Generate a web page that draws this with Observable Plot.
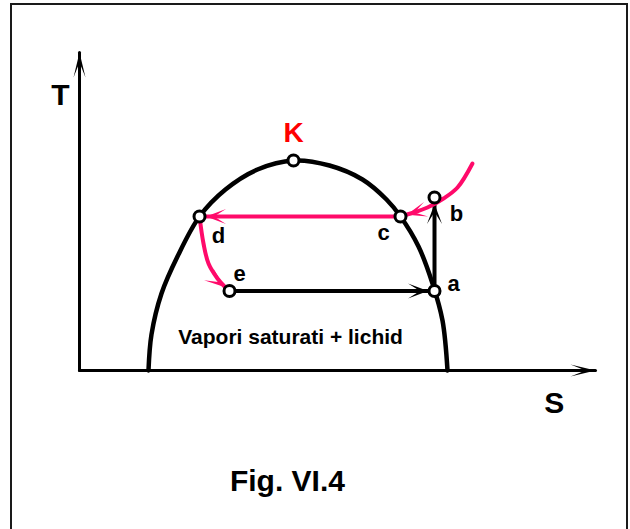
<!DOCTYPE html>
<html>
<head>
<meta charset="utf-8">
<script src="https://cdn.jsdelivr.net/npm/d3@7"></script>
<script src="https://cdn.jsdelivr.net/npm/@observablehq/plot@0.6"></script>
<style>
  html, body { margin: 0; padding: 0; background: #fff; }
  #wrap { position: relative; width: 630px; height: 529px; overflow: hidden; }
  #frame { position: absolute; left: 10px; top: 3px; width: 614px; height: 560px; border: 2px solid #1a1a1a; box-sizing: content-box; }
  #chart { position: absolute; left: 0; top: 0; }
  text { font-family: "Liberation Sans", Arial, sans-serif; font-weight: bold; }
</style>
</head>
<body>
<div id="wrap"><div id="frame"></div><div id="chart"></div></div>
<script>
// Saturation dome (S, T)
const domeS = [1.337, 1.395, 1.589, 1.899, 2.326, 2.829, 3.450, 4.147, 4.845, 5.484, 5.950, 6.221, 6.570, 6.841, 7.035, 7.132];
const domeT = [0, 0.679, 1.453, 2.151, 2.906, 3.415, 3.792, 3.962, 3.868, 3.604, 3.226, 2.906, 2.340, 1.642, 0.943, 0];
// State points
const pointNames = ["K", "d", "c", "b", "a", "e"];
const pointS = [4.147, 2.326, 6.221, 6.88, 6.88, 2.907];
const pointT = [3.962, 2.906, 2.906, 3.264, 1.50, 1.50];
// Pink inflow curve ending at c
const inS = [7.616, 7.326, 7.054, 6.744, 6.415, 6.221];
const inT = [3.906, 3.453, 3.245, 3.075, 2.962, 2.906];
// Pink curve d -> e
const deS = [2.326, 2.403, 2.500, 2.674, 2.829, 2.907];
const deT = [2.906, 2.396, 2.019, 1.736, 1.566, 1.50];
// Axis extents
const axisS = [0, 10];
const axisT = [0, 6];
// Texts
const regionLabel = "Vapori saturati + lichid";
const figCaption = "Fig. VI.4";

const pink = "#ff0a6a";
const dome = domeS.map((s, i) => ({S: s, T: domeT[i]}));
const pts = pointNames.map((n, i) => ({name: n, S: pointS[i], T: pointT[i]}));
const P = Object.fromEntries(pts.map(p => [p.name, p]));
const inflow = inS.map((s, i) => ({S: s, T: inT[i]}));
const dToE = deS.map((s, i) => ({S: s, T: deT[i]}));

function arrowHead(L, W, N, inset) {
  return (color, context) => {
    const doc = (context && context.document) || document;
    const ns = "http://www.w3.org/2000/svg";
    const m = doc.createElementNS(ns, "marker");
    m.setAttribute("viewBox", "-60 -20 70 40");
    m.setAttribute("markerWidth", 70);
    m.setAttribute("markerHeight", 40);
    m.setAttribute("markerUnits", "userSpaceOnUse");
    m.setAttribute("refX", 0);
    m.setAttribute("refY", 0);
    m.setAttribute("orient", "auto");
    m.setAttribute("overflow", "visible");
    const p = doc.createElementNS(ns, "path");
    const t = -inset;
    p.setAttribute("d", `M${t},0L${t - L},${-W}L${t - L + N},0L${t - L},${W}Z`);
    p.setAttribute("fill", color);
    p.setAttribute("stroke", "none");
    m.appendChild(p);
    return m;
  };
}
const headAxis = arrowHead(25, 6, 15, 0);
const headPt = arrowHead(20, 7.5, 12, 6.5);

const chart = Plot.plot({
  width: 630,
  height: 529,
  marginLeft: 79,
  marginRight: 35,
  marginTop: 52,
  marginBottom: 159,
  x: {domain: axisS, axis: null},
  y: {domain: axisT, axis: null},
  style: {fontFamily: "Liberation Sans, Arial, sans-serif", background: "transparent"},
  marks: [
    // axes
    Plot.line([{S: axisS[0], T: 0}, {S: axisS[1], T: 0}], {x: "S", y: "T", stroke: "black", strokeWidth: 3, markerEnd: headAxis}),
    Plot.line([{S: 0, T: axisT[0]}, {S: 0, T: axisT[1]}], {x: "S", y: "T", stroke: "black", strokeWidth: 3, markerEnd: headAxis}),
    Plot.text(["T"], {x: 0, y: 5.19, dx: -19, text: d => d, fontSize: 30, fontWeight: "bold", fill: "black"}),
    Plot.text(["S"], {x: 9.2, y: 0, dy: 33, text: d => d, fontSize: 30, fontWeight: "bold", fill: "black"}),
    // dome
    Plot.line(dome, {x: "S", y: "T", stroke: "black", strokeWidth: 4.5, curve: "catmull-rom"}),
    // black process arrows
    Plot.line([P.e, P.a], {x: "S", y: "T", stroke: "black", strokeWidth: 4, markerEnd: headPt}),
    Plot.line([P.a, P.b], {x: "S", y: "T", stroke: "black", strokeWidth: 4, markerEnd: headPt}),
    // pink process arrows
    Plot.line(inflow, {x: "S", y: "T", stroke: pink, strokeWidth: 4, curve: "catmull-rom", markerEnd: headPt}),
    Plot.line([P.c, P.d], {x: "S", y: "T", stroke: pink, strokeWidth: 4, markerEnd: headPt}),
    Plot.line(dToE, {x: "S", y: "T", stroke: pink, strokeWidth: 4, curve: "catmull-rom", markerEnd: headPt}),
    // state points
    Plot.dot(pts, {x: "S", y: "T", r: 5.5, fill: "white", stroke: "black", strokeWidth: 3}),
    // point labels
    Plot.text([P.K], {x: "S", y: "T", text: "name", dy: -27, fontSize: 28, fontWeight: "bold", fill: "#ff0000"}),
    Plot.text([P.d], {x: "S", y: "T", text: "name", dx: 19, dy: 19, fontSize: 22, fontWeight: "bold", fill: "black"}),
    Plot.text([P.c], {x: "S", y: "T", text: "name", dx: -17, dy: 16, fontSize: 22, fontWeight: "bold", fill: "black"}),
    Plot.text([P.b], {x: "S", y: "T", text: "name", dx: 22, dy: 16, fontSize: 22, fontWeight: "bold", fill: "black"}),
    Plot.text([P.a], {x: "S", y: "T", text: "name", dx: 19, dy: -7, fontSize: 22, fontWeight: "bold", fill: "black"}),
    Plot.text([P.e], {x: "S", y: "T", text: "name", dx: 10, dy: -17, fontSize: 22, fontWeight: "bold", fill: "black"}),
    // region label and caption
    Plot.text([regionLabel], {x: 4.09, y: 0.62, text: d => d, fontSize: 21, fontWeight: "bold", fill: "black"}),
    Plot.text([figCaption], {x: 4.03, y: 0, dy: 111, text: d => d, fontSize: 30, fontWeight: "bold", fill: "black"})
  ]
});
document.getElementById("chart").appendChild(chart);
</script>
</body>
</html>
